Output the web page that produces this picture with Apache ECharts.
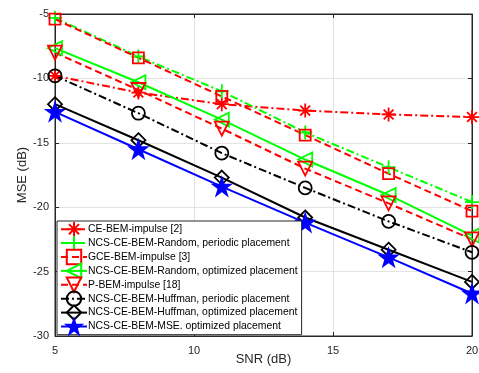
<!DOCTYPE html>
<html><head><meta charset="utf-8">
<script src="https://cdn.jsdelivr.net/npm/echarts@6/dist/echarts.min.js"></script>
<style>html,body{margin:0;padding:0;background:#fff}#c{width:479px;height:373px}</style>
</head><body><div id="c"></div>
<script>
const snr = [5, 8, 11, 14, 17, 20];
const xTicks = [5, 10, 15, 20];
const yTicks = [-30, -25, -20, -15, -10, -5];
const names = [
  'CE-BEM-impulse [2]',
  'NCS-CE-BEM-Random, periodic placement',
  'GCE-BEM-impulse [3]',
  'NCS-CE-BEM-Random, optimized placement',
  'P-BEM-impulse [18]',
  'NCS-CE-BEM-Huffman, periodic placement',
  'NCS-CE-BEM-Huffman, optimized placement',
  'NCS-CE-BEM-MSE. optimized placement'
];
const ceBem      = [-9.8, -11.1, -12.0, -12.5, -12.8, -13.0];
const ncsRandPer = [-5.3, -8.3, -11.0, -14.2, -16.9, -19.6];
const gceBem     = [-5.4, -8.4, -11.4, -14.4, -17.4, -20.3];
const ncsRandOpt = [-7.65, -10.3, -13.2, -16.3, -19.05, -22.2];
const pBem       = [-8.0, -10.9, -13.9, -17.0, -19.7, -22.5];
const huffPer    = [-9.8, -12.7, -15.8, -18.5, -21.1, -23.5];
const huffOpt    = [-12.0, -14.8, -17.7, -20.8, -23.3, -25.8];
const mseOpt     = [-12.6, -15.5, -18.4, -21.2, -23.9, -26.7];

const asterisk = 'path://M0,-1L0,1M-1,0L1,0M-0.7,-0.7L0.7,0.7M-0.7,0.7L0.7,-0.7';
const plus = 'path://M0,-1L0,1M-1,0L1,0';
const star5 = 'path://M0,-1L0.2245,-0.309L0.951,-0.309L0.363,0.118L0.588,0.809L0,0.382L-0.588,0.809L-0.363,0.118L-0.951,-0.309L-0.2245,-0.309Z';
const dashDot = [8, 3, 2, 3];
const dashed = [7, 4];

function mk(name, data, color, symbol, size, dash, rot, fill) {
  return {
    name, type: 'line', data: snr.map((x, i) => [x, data[i]]),
    symbol, symbolSize: size, symbolRotate: rot || 0, showSymbol: true,
    lineStyle: { color, width: 2, type: dash },
    itemStyle: { color: fill ? color : 'rgba(0,0,0,0)', borderColor: color, borderWidth: 1.8 },
    emphasis: { disabled: true }, animation: false
  };
}
const series = [
  mk(names[0], ceBem, '#ff0000', asterisk, 14, dashDot),
  mk(names[1], ncsRandPer, '#00ff00', plus, 14, dashDot),
  mk(names[2], gceBem, '#ff0000', 'rect', 11, dashed),
  mk(names[3], ncsRandOpt, '#00ff00', 'triangle', 14, 'solid', 90),
  mk(names[4], pBem, '#ff0000', 'triangle', 14, dashed, 180),
  mk(names[5], huffPer, '#000000', 'circle', 13, dashDot),
  mk(names[6], huffOpt, '#000000', 'diamond', 14, 'solid'),
  mk(names[7], mseOpt, '#0000ff', star5, 17, 'solid', 0, true)
];
const axCol = '#262626';
const chart = echarts.init(document.getElementById('c'));
chart.setOption({
  animation: false,
  grid: { left: 55, right: 7, top: 14, bottom: 37, show: true, borderColor: axCol, borderWidth: 1, backgroundColor: '#fff', containLabel: false, outerBoundsMode: 'none' },
  xAxis: [{
    type: 'value', min: 5, max: 20, interval: 5,
    name: 'SNR (dB)', nameLocation: 'middle', nameGap: 17, nameMoveOverlap: false,
    nameTextStyle: { fontFamily: 'Liberation Sans', fontSize: 13, color: axCol },
    axisLine: { show: true, lineStyle: { color: axCol } },
    axisTick: { inside: true, length: 4, lineStyle: { color: axCol } },
    axisLabel: { fontFamily: 'Liberation Sans', fontSize: 11, color: axCol, margin: 9 },
    splitLine: { show: true, lineStyle: { color: '#e3e3e3', width: 1 } }
  }, {
    type: 'value', min: 5, max: 20, interval: 5, position: 'top',
    axisLine: { show: true, lineStyle: { color: axCol } },
    axisTick: { inside: true, length: 4, lineStyle: { color: axCol } },
    axisLabel: { show: false }, splitLine: { show: false }
  }],
  yAxis: [{
    type: 'value', min: -30, max: -5, interval: 5,
    name: 'MSE (dB)', nameLocation: 'middle', nameGap: 26, nameMoveOverlap: false,
    nameTextStyle: { fontFamily: 'Liberation Sans', fontSize: 13, color: axCol },
    axisLine: { show: true, lineStyle: { color: axCol } },
    axisTick: { inside: true, length: 4, lineStyle: { color: axCol } },
    axisLabel: { fontFamily: 'Liberation Sans', fontSize: 11, color: axCol, margin: 6 },
    splitLine: { show: true, lineStyle: { color: '#e3e3e3', width: 1 } }
  }, {
    type: 'value', min: -30, max: -5, interval: 5, position: 'right',
    axisLine: { show: true, lineStyle: { color: axCol } },
    axisTick: { inside: true, length: 4, lineStyle: { color: axCol } },
    axisLabel: { show: false }, splitLine: { show: false }
  }],
  legend: {
    orient: 'vertical', left: 57, top: 221,
    data: names,
    itemWidth: 26, itemHeight: 18, itemGap: -2.5,
    padding: [0, 4, 0, 3],
    backgroundColor: '#fff', borderColor: axCol, borderWidth: 1, borderRadius: 0,
    textStyle: { fontFamily: 'Liberation Sans', fontSize: 10.4, color: '#000', padding: [0, 0, 0, -4] },
    selectedMode: false
  },
  series
});
</script></body></html>
